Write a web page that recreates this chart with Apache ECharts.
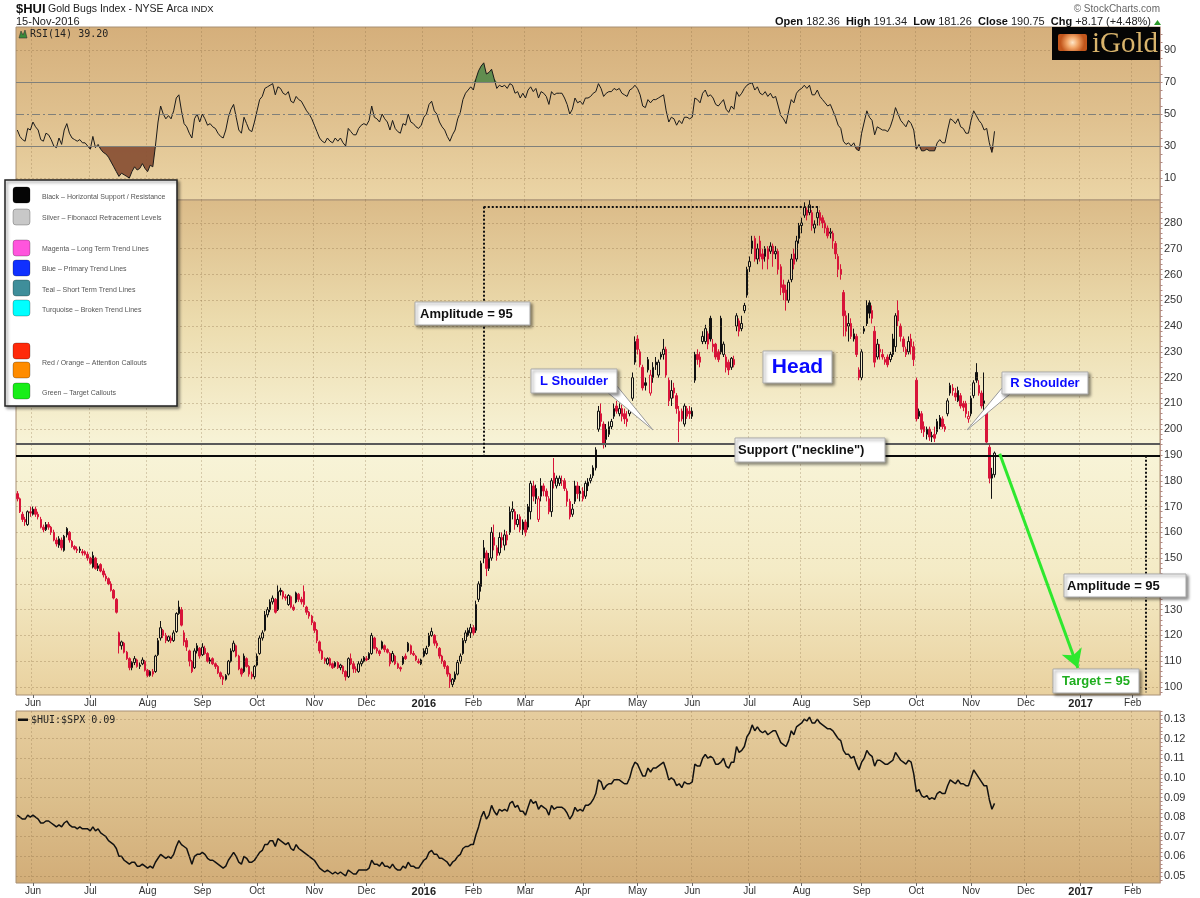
<!DOCTYPE html>
<html><head><meta charset="utf-8">
<script src="https://cdn.jsdelivr.net/npm/echarts@6/dist/echarts.min.js"></script>
<style>html,body{margin:0;padding:0;background:#fff}#c{width:1200px;height:898px}</style>
</head><body><div id="c"></div>
<script>
// ---------- categories (trading days) ----------
const startDate = '2015-05-22', endDate = '2017-02-15';
const holidays = ['2015-07-03','2015-09-07','2015-11-26','2015-12-25','2016-01-01','2016-01-18','2016-02-15','2016-03-25','2016-05-30','2016-07-04','2016-09-05','2016-11-24','2016-12-26','2017-01-02','2017-01-16'];
const monthNames = ['Jan','Feb','Mar','Apr','May','Jun','Jul','Aug','Sep','Oct','Nov','Dec'];
const dates = [];
for (let d = new Date(startDate + 'T00:00:00Z'); d <= new Date(endDate + 'T00:00:00Z'); d.setUTCDate(d.getUTCDate() + 1)) {
  const wd = d.getUTCDay(), s = d.toISOString().slice(0, 10);
  if (wd === 0 || wd === 6 || holidays.includes(s)) continue;
  dates.push(s);
}

// ---------- $HUI daily candles [open, close, low, high] ----------
const may15 = [[175,173,172,176],[173,168,167.5,173.5],[167,165,164,168],[165,164,162.5,166],[163,168,162.5,168.5]];
const jun15 = [[168,167.5,166,170],[167,169,166.5,170],[169,167,166,170],[167,166,165,168],[165,162,161.5,166],[162,161,160,163],[161,163,160.5,164],[163,162,161,164],[162,160,159,162.5],[160,157,156.5,161],[157,155.5,154.5,158],[155,157.5,154,158.5],[157,154,153,158],[153,158.5,152.5,159],[159,161.5,158,162],[160,157,156,160.5],[156.5,154.5,154,157],[154.5,153.5,153,155],[153.5,153,152,154.5],[153,153.5,152,154.5],[152.5,152,151,153.5],[152.5,151.5,151,153]];
const jul15 = [[151.5,150,149,152.5],[150,148,147.5,150.5],[146.5,151,146,152.5],[150,146,145.5,150.5],[146,147,145,148],[147.5,145,144.5,148],[145,143.5,142.5,146],[143,142,141,144],[142,140,139.5,142.5],[140,137.5,137,141],[137.5,134.5,134,138],[134,129,128.5,134.5],[121,116,113,121.5],[116,117.5,114.5,118],[117,113.5,113,117.5],[113.5,111,110.5,114],[111,107.5,106.5,111.5],[107.5,109.5,106.5,110],[109.5,111,108.5,112],[110.5,108,107.5,111],[108,108.5,107,109.5],[109,110.5,108.5,111.5]];
const aug15 = [[110,106.5,106,110.5],[106.5,104.5,103.8,107],[104.5,106,104,106.5],[106,105,104,107],[106,112,105.5,112.5],[112.5,118,112,119],[119,123,118,125.6],[122,120,119,122.5],[120,118,117,121],[118,119.5,117.5,120],[119,118,117,120],[118,121,117.5,122],[121.5,128.5,121,129],[128.5,131,128,133.5],[130,124,123.5,131],[121,117.5,116,122],[118,115.5,114,119],[114,110,108,114.5],[110,106,105.4,110.5],[107.5,114,107,115],[114,116,113,117]];
const sep15 = [[115,112,111,115.5],[112.5,115.5,112,117],[115,113,112.5,116],[113,110,109.5,113.5],[110,110.5,109,111.5],[111,109,108.5,111.5],[109,108,107,109.5],[108,105.5,105,108.5],[105.5,104,103,106],[104,103,100.8,104.5],[103,104.5,102.5,105],[105,110,104.5,110.5],[110,114,109.5,115],[114,117,113.5,118],[116,112,111.5,116.5],[112,107,106.5,112.5],[107,105,104,107.5],[106,112,105.5,113],[111,108,107.5,111.5],[108,105,104,108.5],[105,104,103,106]];
const oct15 = [[104,108,103,108.5],[108.5,112,108,113],[113,119,112.5,120],[119,121,118,122],[122,128,121.5,129.5],[128,130,127,131],[130,133,129,134],[133,134.5,132,135.5],[134,129,128.5,134.5],[130,137,129.5,139.4],[137.5,137,135.5,138.5],[137,135,134,137.5],[135,134.5,133.5,136],[132,135.5,131.5,136],[135,131,130.5,135.5],[131,130,129.5,132],[133,136.5,132.5,137],[136,134,133,136.5],[134,133,132,135],[137,132,131,139.4],[131,129,128,131.5],[129,127.5,126.5,129.5]];
const nov15 = [[127.5,125,124,128],[125,122,121,125.5],[122,118,117,122.5],[117.5,114,113,118],[114,111,110.5,114.5],[111,110,109,111.5],[109,111,108.5,111.5],[111,108.5,108,111.5],[109,107.5,107,109.5],[108,109.5,107.5,110],[109.5,107.5,107,110],[107.5,108.5,106.5,109],[108,106,105,108.5],[106,104,102.5,106.5],[104,111,103.5,111.5],[111,109,108.5,113],[109,107,105.5,110],[107,106.5,105.5,108],[106,109,105.5,110],[109,110,108,111]];
const dec15 = [[110,111.5,109.5,112],[111,110.5,110,112],[111,113,110.5,113.5],[113,120,112.5,121],[119,115,114.5,119.5],[115,114,113,115.5],[114,113,112,114.5],[115,117.5,114.5,118],[116,114.5,113.5,116.5],[114.5,113.5,113,115],[113,109,108,113.5],[110,113,109.5,114],[112,109,108.5,112.5],[109,107.5,107,109.5],[107.5,107,106,108],[109,111.5,108.5,112],[112,111,110.5,113],[114,117,113.5,117.5],[116,113,112.5,116.5],[113,112.5,112,114],[112,110.5,110,112.5],[110,109.5,109,111]];
const jan16 = [[109,110.5,108.5,111],[112,114,111.5,115],[113,115,112.5,116],[116,120,115.5,121],[120,121.5,119.5,123],[120,117,116,120.5],[117,116,115,118],[115,112,111,115.5],[112,110,109,112.5],[110,108,107,110.5],[108,105,104,108.5],[105,102,99.6,105.5],[101,103,100,103.5],[103,105,102,106],[105,109.5,104.5,110.5],[110,112,109,113],[113,118,112.5,119],[118,121,117,122],[120,122,119.5,123]];
const feb16 = [[121,123,119,124.5],[123,121,120,124],[122,132,121,133.5],[134,140,133,141],[139,148,137,149],[150,154,148,157],[152,146,143,153],[146,150,145,152],[150,160,149,162],[158,155,153,163],[154,151,149,155],[152,158,151,160],[158,157,154,160],[155,159,153,161],[159,157,155,160.5],[160,168,159,170],[168,169,165,172],[168,163,161,169],[163,165,162,167],[166,161,160,167]];
const mar16 = [[161,164,159,165],[164,160,158.5,165],[162,170,161,171],[168,179,165,180],[178,174,172,180],[173,177,171,178.5],[165,173,164,174],[174,178,172,181],[178,176,174,179],[176,174,172,177],[173,168,167,174],[168,180,166,181],[183,179,177,188.8],[178,181,177,182],[179,181,178,182],[180,180,178,182],[180,177,176,181],[176,172,170,177],[172,166,165,173],[167,169,166,171],[172,178,171,180],[178,175,173,179.5]];
const apr16 = [[175,176,172,178],[176,173,172,177.5],[174,179,173,180],[178,179.5,176,181],[180,181,179,182.5],[182,185,181,186],[185,192,184,193],[200,207,199,209],[206,203,201,210],[202,194,192.5,203],[196,200,193,202],[198,201,197,203],[201,203,200,204],[205,208,204,210],[209,207,206,211],[206,208,205,210],[208,205,203,209.5],[206,204,202,208],[204,203,201,207],[206,209,205,210],[212,220,211,222]];
const may16 = [[226,234,225,236],[235,231,229,236.5],[230,225,224,231],[224,216,215,225],[218,217,215,220],[223,227,222,228],[214,221,213,223],[220,224,218,226],[226,225,223,228],[221,226,220,227],[229,228,227,230],[229,231,227,235],[231,221,220,232],[219,211,209,220],[212,215,209,219],[216,214,212,218],[213,208,206,214],[203,207,195,209],[207,204,203,208],[202,209,201,210],[205,208,204,209]];
const jun16 = [[207,206,204,209],[205,207,204,208.5],[219,229,218,230],[229,227,225,231],[228,226,224,230],[234,236,233,238],[234,239,233,240.5],[237,233,231,238],[243,235,234,244],[233,232,230,235],[233,228,227,233.5],[230,227,226,231],[243,230,229,244],[229,233,228,234],[228,224,222,229],[226,223,221,227],[224,227.5,223,228],[227,225,224,228.5],[240,244,238,245],[242,238,236,243],[239,241,238,244],[246,248,245,249]];
const jul16 = [[252,262,251,263],[263,265,261,267],[270,273,268,275],[274,266,265,275],[266,270,264,272],[273,267,265,275],[268,266,262,270],[267,270,265,271],[270,266,262,271],[269,271,268,272.5],[271,268,263,272],[268,269,266,271],[269,262,260,270],[263,255,252,264],[256,253,250,258],[254,250,246,256],[250,257,249,258],[258,266,257,268],[268,264,262,270],[266,273,265,275]];
const aug16 = [[274,279,272,280],[279,280,276,282],[283,286,282,288],[285,283,281,286],[284,287,283,288.8],[284,279,277,285],[278,279.5,276,281],[282,284,279,286.5],[284,281,279,285],[282,280,278,283],[280,278,276,281],[278,275,274,279],[276,276.5,274,278],[276,273,270,277],[272,268,266,273],[267,262,259,268],[262,260,258,264],[253,244,236,254],[244,238,236,246],[240,241,234,245],[241,236,235,243],[235,237,234,239],[236,229,228,237]];
const sep16 = [[223,220,219,224],[220,230,219,231],[238,239,237,240],[248,241,240,250],[249,245,243,250],[246,243,241,248],[238,226,224,240],[228,233,227,235],[230,231,227,233],[229,228,227,231],[227,226,225,228],[228,225,224,229],[227,229,226,230],[229,235,228,237],[232,244,230,245],[246,242,240,250],[240,236,234,241],[235,232,230,236],[231,229,228,232],[230,234,229,236],[235,232,229,237]];
const oct16 = [[232,227,224.5,234],[219,204,203,220],[205,207,204,208],[206,200,198.5,207],[201,199,197,203],[198,200,196,201],[200,197,195.5,201],[197,197.5,195,199],[198,196.5,195,201],[199,203,198,204],[201,204.5,200,205.5],[204,201,200,205],[201,200,199,202],[206,211,205,212],[214,217,213,218],[216,215,213,217.5],[214,212.5,211,216],[211,215,210.5,216.5],[213,209,208,214],[210,208.5,207,211],[210,206,204.5,211]];
const nov16 = [[204,205,202.5,207],[206,212,205,213],[213,218,212,219],[222,219,218,225.6],[217,214,213,219],[214,209,208,215],[210,211,207,222],[207,195,194,208],[193,181,179,194],[181,182.58,173,185],[182.36,190.75,181.26,191.34]];

// ---------- RSI(14) ----------
const rsi2015 = [40,36,34,33,41, 40,45,42,40,34,33,38,37,34,30, 29,35,31,40,44,38,35,34,33,34,32,32,
 30,28,36,29,31,28,26,25,23,20,17,14, 11,13,12,11,10,14,17,15,16,19,16,14,18,17, 30,45,55,50,47,49,47,52,
 60,62,52,44,42,38,35,47,50, 45,50,47,43,44,42,41,38,36,35,40,48,53,56,48,40,38,48,44,40,39,
 45,52,59,61,66,67,68,69,62,67, 66,63,62,64,58,57,61,59,58,55,52,50,
 47,43,39,35,33,32,35,33,32,35,33,35,32,30,41,39,37,37,41,43,
 44,43,46,55,48,47,45,50,47,45,40,46,41,39,38,44,43,50,45,44,42,41];
const rsi2016 = [43,48,50,56,58,52,50,45,42,40,36,33,37,40,47,51,59,63,65,
 67,65,72,77,80,82,75,76,78,72,66,68,67,68,66,69,68,63,64,60,
 63,60,65,67,64,66,60,64,63,61,56,64,62,63,63,63,60,56,50,53,60,57,
 58,56,60,60,61,63,64,69,66,61,63,64,64,66,65,66,63,62,61,65,66,
 68,66,62,55,54,59,57,59,59,60,61,62,52,45,48,47,43,46,44,48,48,
 47,48,60,59,57,63,65,61,62,60,56,55,57,59,53,51,55,53,64,61,63,66,
 68,69,69.5,65,67,63,62,64,61,63,60,61,55,49,47,44,52,59,57,63,
 65,66,68,66,68,62,62,65,61,59,57,55,56,52,48,43,41,33,31,32,30,32,28,
 27,38,45,52,48,46,37,42,41,40,40,39,42,47,54,50,46,44,42,46,44,
 40,28,31,27,27,28,27,27,27,32,34,32,32,40,47,46,44,47,42,41,38,
 38,46,52,49,46,44,40,41,32,26,39.2];

// ---------- $HUI:$SPX ratio ----------
const ratio2015 = [0.081,0.080,0.079,0.079,0.081,0.080,0.081,0.080,0.079,0.077,0.077,0.078,0.078,0.077,0.076,0.075,0.076,0.075,0.077,0.078,0.076,0.075,0.075,0.074,0.075,0.074,0.074,
 0.074,0.073,0.075,0.073,0.074,0.072,0.071,0.070,0.068,0.067,0.066,0.064,0.060,0.060,0.058,0.057,0.056,0.057,0.057,0.055,0.055,0.056,
 0.055,0.054,0.055,0.054,0.057,0.059,0.061,0.060,0.059,0.060,0.059,0.061,0.065,0.068,0.066,0.065,0.064,0.060,0.056,0.060,0.061,
 0.061,0.062,0.061,0.059,0.058,0.058,0.057,0.056,0.055,0.054,0.055,0.058,0.060,0.062,0.060,0.057,0.056,0.060,0.059,0.057,0.057,
 0.058,0.060,0.062,0.063,0.066,0.066,0.068,0.068,0.065,0.069,0.068,0.067,0.066,0.067,0.064,0.063,0.066,0.064,0.063,0.062,0.061,0.060,
 0.059,0.058,0.056,0.054,0.053,0.052,0.053,0.052,0.051,0.052,0.051,0.052,0.051,0.050,0.053,0.052,0.051,0.051,0.053,0.053,
 0.053,0.053,0.054,0.058,0.056,0.056,0.055,0.057,0.055,0.055,0.054,0.056,0.054,0.053,0.053,0.055,0.054,0.057,0.055,0.055,0.054,0.054];
const ratio2016 = [0.056,0.058,0.059,0.062,0.063,0.061,0.061,0.059,0.059,0.058,0.057,0.055,0.057,0.058,0.060,0.061,0.064,0.065,0.065,
 0.066,0.066,0.071,0.075,0.080,0.083,0.079,0.081,0.086,0.083,0.081,0.084,0.083,0.084,0.083,0.087,0.088,0.085,0.086,0.083,
 0.083,0.081,0.085,0.089,0.087,0.088,0.084,0.086,0.085,0.084,0.081,0.086,0.084,0.085,0.085,0.085,0.084,0.082,0.079,0.081,0.085,0.083,
 0.084,0.083,0.086,0.086,0.087,0.089,0.092,0.099,0.098,0.094,0.096,0.097,0.097,0.099,0.099,0.099,0.098,0.097,0.097,0.100,0.105,
 0.108,0.107,0.104,0.101,0.101,0.105,0.103,0.105,0.105,0.106,0.107,0.108,0.104,0.099,0.100,0.099,0.096,0.097,0.095,0.098,0.097,
 0.097,0.098,0.107,0.106,0.106,0.110,0.112,0.110,0.111,0.110,0.107,0.107,0.108,0.110,0.106,0.105,0.108,0.108,0.116,0.113,0.114,0.116,
 0.121,0.123,0.127,0.124,0.126,0.124,0.123,0.124,0.122,0.123,0.124,0.124,0.121,0.118,0.117,0.116,0.119,0.124,0.122,0.126,
 0.127,0.128,0.130,0.129,0.131,0.128,0.128,0.130,0.128,0.127,0.126,0.125,0.125,0.124,0.122,0.120,0.119,0.114,0.112,0.112,0.110,0.111,0.107,
 0.104,0.108,0.110,0.114,0.112,0.111,0.106,0.109,0.109,0.108,0.107,0.107,0.108,0.109,0.113,0.111,0.109,0.108,0.107,0.109,0.108,
 0.102,0.093,0.094,0.091,0.090,0.091,0.089,0.090,0.089,0.092,0.093,0.092,0.092,0.096,0.099,0.098,0.097,0.099,0.097,0.097,0.096,
 0.096,0.100,0.104,0.102,0.100,0.098,0.096,0.096,0.089,0.084,0.087];

// ---------- ticks & annotation levels ----------
const priceTicks = [100,110,120,130,140,150,160,170,180,190,200,210,220,230,240,250,260,270,280];
const rsiTicks = [10,30,50,70,90];
const ratioTicks = [0.05,0.06,0.07,0.08,0.09,0.10,0.11,0.12,0.13];
const supportTop = 194.5, neckline = 189.7, headTop = 286.3, chartBottom = 98;
const ampStartDate = '2016-02-05', headEndDate = '2016-08-10', targetDate = '2017-02-08';
const arrowFromDate = '2016-11-16', arrowToDate = '2016-12-30', arrowFrom = 190.5, arrowTo = 107.4;

// minor tick marks on the right axes (axis decoration only)
const minorTicks = (lo, hi, step) => { const a = []; for (let k = Math.ceil(lo / step); k * step <= hi; k++) a.push(+(k * step).toFixed(4)); return a; };

const ohlc = [].concat(may15, jun15, jul15, aug15, sep15, oct15, nov15, dec15, jan16, feb16, mar16, apr16, may16, jun16, jul16, aug16, sep16, oct16, nov16);
const rsi = rsi2015.concat(rsi2016);
const ratio = ratio2015.concat(ratio2016);

const RED = '#d8143a', BLK = '#111';
const candleData = ohlc.map((v, i) => {
  const prevC = i > 0 ? ohlc[i - 1][1] : v[0];
  const col = v[1] < prevC ? RED : BLK;
  const hollow = v[1] > v[0];
  return { value: v, itemStyle: { color: hollow ? 'rgba(255,255,255,0.15)' : col, color0: col, borderColor: col, borderColor0: col } };
});

const di = (s) => dates.indexOf(s);
const isMonthStart = (i) => i > 0 && dates[i].slice(5, 7) !== dates[i - 1].slice(5, 7);
const FONT = '"Liberation Sans", Arial, sans-serif';
const grad = (cols) => new echarts.graphic.LinearGradient(0, 0, 0, 1, cols.map((c, i) => ({ offset: i / (cols.length - 1), color: c })));

function xAxisDef(gi, showLabel) {
  return {
    type: 'category', gridIndex: gi, data: dates, boundaryGap: true,
    axisLine: { show: false },
    axisTick: { show: showLabel, interval: (i) => isMonthStart(i), alignWithLabel: true, length: 3, lineStyle: { color: '#666' } },
    axisLabel: {
      show: showLabel, interval: (i) => isMonthStart(i), fontSize: 10, color: '#333', margin: 3, fontFamily: FONT,
      formatter: (v) => { const m = +v.slice(5, 7); return m === 1 ? '{y|' + v.slice(0, 4) + '}' : monthNames[m - 1]; },
      rich: { y: { fontWeight: 'bold', fontSize: 11, color: '#222', fontFamily: FONT } }
    },
    splitLine: { show: true, interval: (i) => isMonthStart(i), lineStyle: { type: [2, 2], color: 'rgba(130,100,60,0.28)', width: 1 } }
  };
}
function yAxisDef(gi, min, max, ticks, minor, fmt) {
  return {
    type: 'value', gridIndex: gi, position: 'right', min, max, scale: true,
    splitLine: { show: false },
    axisLine: { show: true, lineStyle: { color: '#bf9c90' } },
    axisTick: { show: true, customValues: minor, length: 2.5, lineStyle: { color: '#b08a80' } },
    axisLabel: { customValues: ticks, fontSize: 11, color: '#333', margin: 4, fontFamily: FONT, formatter: fmt }
  };
}
const dotted = (vals) => vals.map(v => ({ yAxis: v, lineStyle: { type: [2, 2], color: 'rgba(130,100,60,0.3)', width: 1 } }));

// ---------- graphics ----------
const G = [];
const Z = 100;
function txt(x, y, text, font, fill, align, extra) {
  return Object.assign({ type: 'text', x, y, z: Z + 2, silent: true, style: { text, font, fill, textAlign: align || 'left', align: align || 'left', textVerticalAlign: 'middle', verticalAlign: 'middle' } }, extra || {});
}
function box(x, y, w, h, text, font, color, tx) {
  G.push({ type: 'rect', z: Z, silent: true, shape: { x, y, width: w, height: h }, style: { fill: '#fff', stroke: '#aaa', lineWidth: 1, shadowBlur: 3, shadowOffsetX: 2, shadowOffsetY: 2, shadowColor: 'rgba(0,0,0,0.45)' } });
  G.push(txt(tx != null ? tx : x + w / 2, y + h / 2 + 0.5, text, font, color, tx != null ? 'left' : 'center'));
}
// title area
G.push(txt(16, 9, '$HUI', 'bold 13px ' + FONT, '#111'));
G.push(txt(48, 9, 'Gold Bugs Index - NYSE Arca', '10.5px ' + FONT, '#222'));
G.push(txt(191, 9.5, 'INDX', '9.5px ' + FONT, '#222'));
G.push(txt(16, 22, '15-Nov-2016', '11px ' + FONT, '#222'));
G.push(txt(1160, 9, '\u00a9 StockCharts.com', '10px ' + FONT, '#666', 'right'));
G.push({ type: 'text', x: 1151, y: 22, z: Z + 2, silent: true, style: { text: '{b|Open} 182.36  {b|High} 191.34  {b|Low} 181.26  {b|Close} 190.75  {b|Chg} +8.17 (+4.48%)', font: '11px ' + FONT, fill: '#222', textAlign: 'right', align: 'right', textVerticalAlign: 'middle', verticalAlign: 'middle', rich: { b: { fontWeight: 'bold', fontSize: 11, fontFamily: FONT, fill: '#111', color: '#111' } } } });
G.push({ type: 'polygon', z: Z, silent: true, shape: { points: [[1154, 25], [1161, 25], [1157.5, 20]] }, style: { fill: '#2a9a2a' } });
// panel headers
G.push({ type: 'polygon', z: Z, silent: true, shape: { points: [[19, 38], [21, 31], [23, 35], [25, 30], [27, 38]] }, style: { fill: '#3a8a3a', stroke: '#333', lineWidth: 0.6 } });
G.push(txt(30, 34, 'RSI(14) ' + rsi[rsi.length - 1].toFixed(2), '10px "DejaVu Sans Mono", monospace', '#222'));
G.push({ type: 'rect', z: Z, silent: true, shape: { x: 18, y: 718.5, width: 10, height: 2.5 }, style: { fill: '#111' } });
G.push(txt(31, 720, '$HUI:$SPX ' + ratio[ratio.length - 1].toFixed(2), '10px "DejaVu Sans Mono", monospace', '#222'));
// iGold logo
G.push({ type: 'rect', z: Z, silent: true, shape: { x: 1052, y: 27, width: 108, height: 33 }, style: { fill: '#050505' } });
G.push({ type: 'rect', z: Z + 1, silent: true, shape: { x: 1058, y: 34, width: 29, height: 17, r: 2 }, style: { fill: new echarts.graphic.RadialGradient(0.5, 0.5, 0.7, [{ offset: 0, color: '#fde6c8' }, { offset: 0.45, color: '#f3a86a' }, { offset: 1, color: '#c2561c' }]) } });
G.push(txt(1092, 44, 'iGold', '29px "Liberation Serif", "DejaVu Serif", serif', '#d9b46c'));
// legend box
G.push({ type: 'rect', z: Z, silent: true, shape: { x: 5, y: 180, width: 172, height: 226 }, style: { fill: '#fff', stroke: '#222', lineWidth: 1.5, shadowBlur: 3, shadowOffsetX: 2, shadowOffsetY: 2, shadowColor: 'rgba(0,0,0,0.4)' } });
const legendSw = [['#050505', 195], ['#c8c8c8', 217], ['#ff55dd', 248], ['#1030ff', 268], ['#3f8e9a', 288], ['#00ffff', 308], ['#ff2a0a', 351], ['#ff8c00', 370], ['#18ee18', 391]];
legendSw.forEach(([c, y]) => G.push({ type: 'rect', z: Z + 1, silent: true, shape: { x: 13, y: y - 8, width: 17, height: 16, r: 3 }, style: { fill: c, stroke: 'rgba(0,0,0,0.25)', lineWidth: 1 } }));
const legendTx = [['Black \u2013 Horizontal Support / Resistance', 197], ['Silver \u2013 Fibonacci Retracement Levels', 218], ['Magenta \u2013 Long Term Trend Lines', 249], ['Blue \u2013 Primary Trend Lines', 269], ['Teal \u2013 Short Term Trend Lines', 290], ['Turquoise \u2013 Broken Trend Lines', 310], ['Red / Orange \u2013 Attention Callouts', 363], ['Green \u2013 Target Callouts', 393]];
legendTx.forEach(([t, y]) => G.push(txt(42, y, t, '7px ' + FONT, '#555')));
// callouts
G.push({ type: 'polygon', z: Z - 1, silent: true, shape: { points: [[607, 392], [617, 386], [653, 430]] }, style: { fill: '#fff', stroke: '#999', lineWidth: 1 } });
G.push({ type: 'polygon', z: Z - 1, silent: true, shape: { points: [[1002, 388], [1010, 394], [967, 430]] }, style: { fill: '#fff', stroke: '#999', lineWidth: 1 } });
box(415, 302, 115, 23, 'Amplitude = 95', 'bold 13px ' + FONT, '#111', 420);
box(531, 369, 86, 24, 'L Shoulder', 'bold 13px ' + FONT, '#0a0aff');
box(763, 351, 69, 32, 'Head', 'bold 21px ' + FONT, '#0a0aff');
box(1002, 372, 86, 22, 'R Shoulder', 'bold 13px ' + FONT, '#0a0aff');
box(735, 438, 150, 24, 'Support ("neckline")', 'bold 13px ' + FONT, '#111', 738);
box(1064, 574, 122, 23, 'Amplitude = 95', 'bold 13px ' + FONT, '#111', 1067);
box(1053, 669, 86, 24, 'Target = 95', 'bold 13px ' + FONT, '#1fae1f');

// ---------- chart ----------
const chart = echarts.init(document.getElementById('c'), null, { renderer: 'canvas' });
chart.setOption({
  animation: false,
  backgroundColor: '#fff',
  grid: [
    { left: 16, right: 40, top: 27, height: 173, show: true, backgroundColor: grad(['#d5af7b', '#dfc08e', '#ebd5a6']), borderColor: '#a89074', borderWidth: 1 },
    { left: 16, right: 40, top: 200, height: 495, show: true, backgroundColor: grad(['#dbbb88', '#ecdcae', '#f8f4d8', '#f4ebc6', '#e9d19f']), borderColor: '#a89074', borderWidth: 1 },
    { left: 16, right: 40, top: 711, height: 172, show: true, backgroundColor: grad(['#e6cd9e', '#dcbf8c', '#d2ad78']), borderColor: '#a89074', borderWidth: 1 }
  ],
  xAxis: [xAxisDef(0, false), xAxisDef(1, true), xAxisDef(2, true)],
  yAxis: [
    yAxisDef(0, -3.75, 104.4, rsiTicks, minorTicks(0, 104, 5)),
    yAxisDef(1, 96.9, 288.9, priceTicks, minorTicks(98, 288, 2)),
    yAxisDef(2, 0.0464, 0.1341, ratioTicks, minorTicks(0.048, 0.134, 0.002), (v) => v.toFixed(2))
  ],
  graphic: { elements: G },
  series: [
    // RSI fills
    { type: 'line', xAxisIndex: 0, yAxisIndex: 0, data: rsi.map(v => Math.min(v, 30)), symbol: 'none', silent: true, z: 2,
      lineStyle: { width: 0, opacity: 0 }, areaStyle: { origin: 30, color: '#8a5236', opacity: 0.95 } },
    { type: 'line', xAxisIndex: 0, yAxisIndex: 0, data: rsi.map(v => Math.max(v, 70)), symbol: 'none', silent: true, z: 2,
      lineStyle: { width: 0, opacity: 0 }, areaStyle: { origin: 70, color: '#5b8a4c', opacity: 0.95 } },
    { type: 'line', xAxisIndex: 0, yAxisIndex: 0, data: rsi, symbol: 'none', silent: true, z: 3,
      lineStyle: { color: '#1a1a1a', width: 1 },
      markLine: { silent: true, symbol: ['none', 'none'], label: { show: false }, animation: false,
        data: dotted([10, 90]).concat([
          { yAxis: 70, lineStyle: { type: 'solid', color: '#80807a', width: 1.2 } },
          { yAxis: 50, lineStyle: { type: [8, 3, 2, 3], color: '#80807a', width: 1.2 } },
          { yAxis: 30, lineStyle: { type: 'solid', color: '#80807a', width: 1.2 } }
        ]) } },
    // main grid lines
    { type: 'line', xAxisIndex: 1, yAxisIndex: 1, data: [], silent: true, z: 1,
      markLine: { silent: true, symbol: ['none', 'none'], label: { show: false }, animation: false, data: dotted(priceTicks) } },
    // candles
    { type: 'candlestick', xAxisIndex: 1, yAxisIndex: 1, data: candleData, barWidth: 2, silent: true, z: 3,
      itemStyle: { borderWidth: 1 },
      markLine: { silent: true, symbol: ['none', 'none'], label: { show: false }, animation: false,
        data: [
          { yAxis: supportTop, lineStyle: { type: 'solid', color: '#5a5a5a', width: 2 } },
          { yAxis: neckline, lineStyle: { type: 'solid', color: '#0a0a0a', width: 2 } },
          [{ coord: [di(ampStartDate), headTop], lineStyle: { type: [2, 2], color: '#111', width: 2 } }, { coord: [di(ampStartDate), neckline] }],
          [{ coord: [di(ampStartDate), headTop], lineStyle: { type: [2, 2], color: '#111', width: 2 } }, { coord: [di(headEndDate), headTop] }],
          [{ coord: [di(targetDate), neckline], lineStyle: { type: [2, 2], color: '#111', width: 2 } }, { coord: [di(targetDate), chartBottom] }],
          [{ coord: [di(arrowFromDate), arrowFrom], symbol: 'none', lineStyle: { type: 'solid', color: '#2ee82e', width: 3 } },
           { coord: [di(arrowToDate), arrowTo], symbol: 'arrow', symbolSize: [16, 18] }]
        ] } },
    // ratio
    { type: 'line', xAxisIndex: 2, yAxisIndex: 2, data: ratio, symbol: 'none', silent: true, z: 3,
      lineStyle: { color: '#111', width: 1.5 },
      markLine: { silent: true, symbol: ['none', 'none'], label: { show: false }, animation: false, data: dotted(ratioTicks) } }
  ]
});
</script></body></html>
